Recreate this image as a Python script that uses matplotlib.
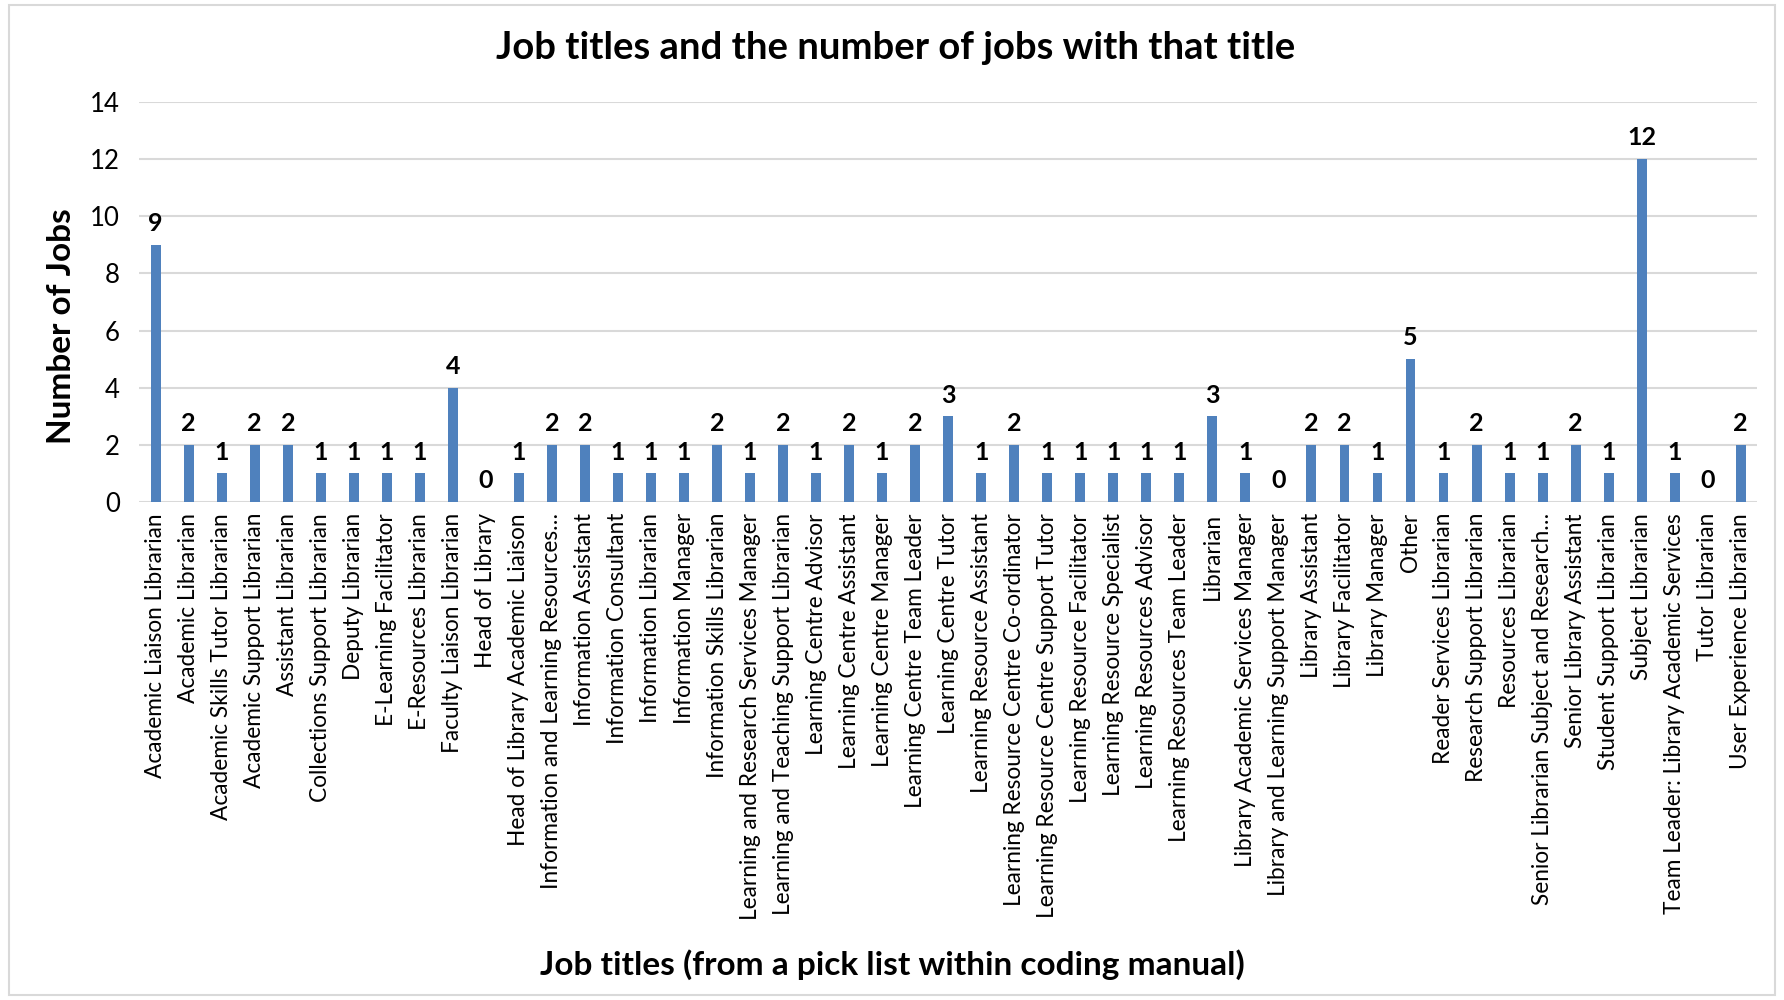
"""Bar chart: job titles and the number of jobs with that title."""

import matplotlib.pyplot as plt
from matplotlib.patches import Rectangle

plt.rcParams["font.family"] = ["Lato", "DejaVu Sans"]

job_titles = [
    "Academic Liaison Librarian",
    "Academic Librarian",
    "Academic Skills Tutor Librarian",
    "Academic Support Librarian",
    "Assistant Librarian",
    "Collections Support Librarian",
    "Deputy Librarian",
    "E-Learning Facilitator",
    "E-Resources Librarian",
    "Faculty Liaison Librarian",
    "Head of Library",
    "Head of Library Academic Liaison",
    "Information and Learning Resources…",
    "Information Assistant",
    "Information Consultant",
    "Information Librarian",
    "Information Manager",
    "Information Skills Librarian",
    "Learning and Research Services Manager",
    "Learning and Teaching Support Librarian",
    "Learning Centre Advisor",
    "Learning Centre Assistant",
    "Learning Centre Manager",
    "Learning Centre Team Leader",
    "Learning Centre Tutor",
    "Learning Resource Assistant",
    "Learning Resource Centre Co-ordinator",
    "Learning Resource Centre Support Tutor",
    "Learning Resource Facilitator",
    "Learning Resource Specialist",
    "Learning Resources Advisor",
    "Learning Resources Team Leader",
    "Librarian",
    "Library Academic Services Manager",
    "Library and Learning Support Manager",
    "Library Assistant",
    "Library Facilitator",
    "Library Manager",
    "Other",
    "Reader Services Librarian",
    "Research Support Librarian",
    "Resources Librarian",
    "Senior Librarian Subject and Research…",
    "Senior Library Assistant",
    "Student Support Librarian",
    "Subject Librarian",
    "Team Leader: Library Academic Services",
    "Tutor Librarian",
    "User Experience Librarian",
]

job_counts = [
    9, 2, 1, 2, 2, 1, 1, 1, 1, 4,
    0, 1, 2, 2, 1, 1, 1, 2, 1, 2,
    1, 2, 1, 2, 3, 1, 2, 1, 1, 1,
    1, 1, 3, 1, 0, 2, 2, 1, 5, 1,
    2, 1, 1, 2, 1, 12, 1, 0, 2,
]

y_ticks = [0, 2, 4, 6, 8, 10, 12, 14]

fig = plt.figure(figsize=(17.84, 10), dpi=100)
ax = fig.add_axes([0.078, 0.498, 0.907, 0.400])

x = range(len(job_titles))
ax.bar(x, job_counts, width=0.3, color="#4F81BD", zorder=3)

for xi, val in zip(x, job_counts):
    ax.annotate(str(val), (xi, val), xytext=(0, 7), textcoords="offset points",
                ha="center", va="bottom", fontsize=18, fontweight="bold")

ax.set_xlim(-0.5, len(job_titles) - 0.5)
ax.set_ylim(0, 14)
ax.set_yticks(y_ticks)
ax.set_xticks(list(x))
ax.set_xticklabels(job_titles, rotation=90, fontsize=16.3)
ax.tick_params(axis="y", labelsize=18.5, length=0, pad=14)
ax.tick_params(axis="x", length=0, pad=8)
ax.grid(axis="y", color="#D9D9D9", linewidth=1.5, zorder=0)
for side in ["top", "right", "left", "bottom"]:
    ax.spines[side].set_visible(False)

ax.set_ylabel("Number of Jobs", fontsize=24, fontweight="bold")
ax.yaxis.set_label_coords(-0.039, 0.44)
fig.text(0.502, 0.952, "Job titles and the number of jobs with that title",
         ha="center", va="center", fontsize=27.5, fontweight="bold")
fig.text(0.500, 0.035, "Job titles (from a pick list within coding manual)",
         ha="center", va="center", fontsize=24, fontweight="bold")

# light border round the whole chart area
fig.patches.append(Rectangle((0.005, 0.005), 0.99, 0.99, transform=fig.transFigure,
                             fill=False, edgecolor="#D9D9D9", linewidth=1.5))

fig.savefig("out.png", dpi=100)
plt.close(fig)
